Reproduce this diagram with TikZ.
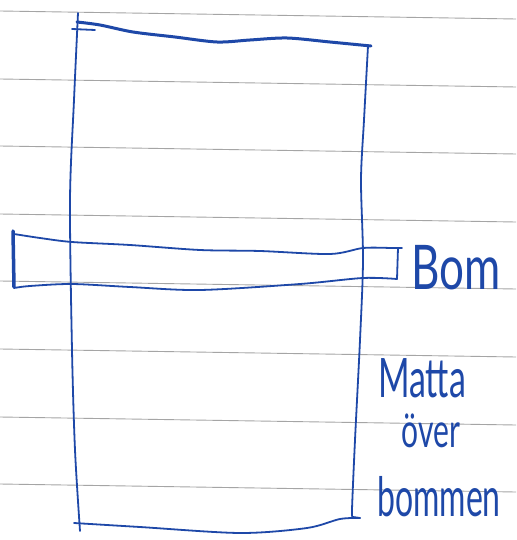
\documentclass[tikz,border=0pt]{standalone}
\usepackage{fontspec}
\setmainfont{Lato}
\definecolor{ink}{RGB}{30,72,168}
\definecolor{rule}{RGB}{165,165,165}
\begin{document}
\begin{tikzpicture}[x=1pt,y=-1pt,
  pen/.style={draw=ink,line width=1.8pt,line cap=round,line join=round},
  heavypen/.style={draw=ink,line width=3pt,line cap=round,line join=round},
  ruling/.style={draw=rule,line width=0.9pt},
  hand/.style={text=ink,inner sep=0pt,font=\fontsize{30}{34}\selectfont}]
\useasboundingbox[fill=white] (0,0) rectangle (516,540);
% ruled paper lines
\foreach \y in {11,79,146,214,281,349,417,484}
  \draw[ruling] (0,\y) -- (516,\y+8);
% mat (big rectangle)
\draw[heavypen] plot[smooth] coordinates {(77,22) (100,25) (133,32) (175,37) (217,42) (250,40) (287,38) (330,42) (371,46)};
\draw[pen] (72,29) -- (95,30);
\draw[pen] plot[smooth] coordinates {(78,13) (74,100) (70,200) (72,350) (75,450) (80,531)};
\draw[pen] plot[smooth] coordinates {(368,46) (364,120) (361,180) (363,260) (360,340) (355,440) (352,510) (353,517)} -- (360,518);
\draw[pen] plot[smooth] coordinates {(74,523) (140,527) (240,533) (307,528) (340,519) (360,518)};
% beam (bom)
\draw[draw=ink,line width=3.5pt,line cap=round] (13,231) -- (14,287);
\draw[pen] plot[smooth] coordinates {(14,234) (40,238) (72,242) (130,245) (200,250) (260,251) (330,254) (363,248) (390,248)};
\draw[pen] (390,248) -- (402,248);
\draw[pen] (398,248) -- (397,279);
\draw[pen] plot[smooth] coordinates {(397,279) (363,278) (300,284) (200,290) (130,287) (72,284) (30,286) (14,288)};
% labels
\node[hand,font=\fontsize{44}{48}\selectfont] (bom) at (456,268) {\scalebox{1}[1.4]{Bom}};
\node[hand,font=\fontsize{34}{38}\selectfont] (matta) at (422,378) {\scalebox{1}[1.6]{Matta}};
\node[hand] (over) at (431,431) {\scalebox{1}[1.6]{över}};
\node[hand,font=\fontsize{32}{36}\selectfont] (bommen) at (439,497) {\scalebox{1}[1.7]{bommen}};
\end{tikzpicture}
\end{document}
